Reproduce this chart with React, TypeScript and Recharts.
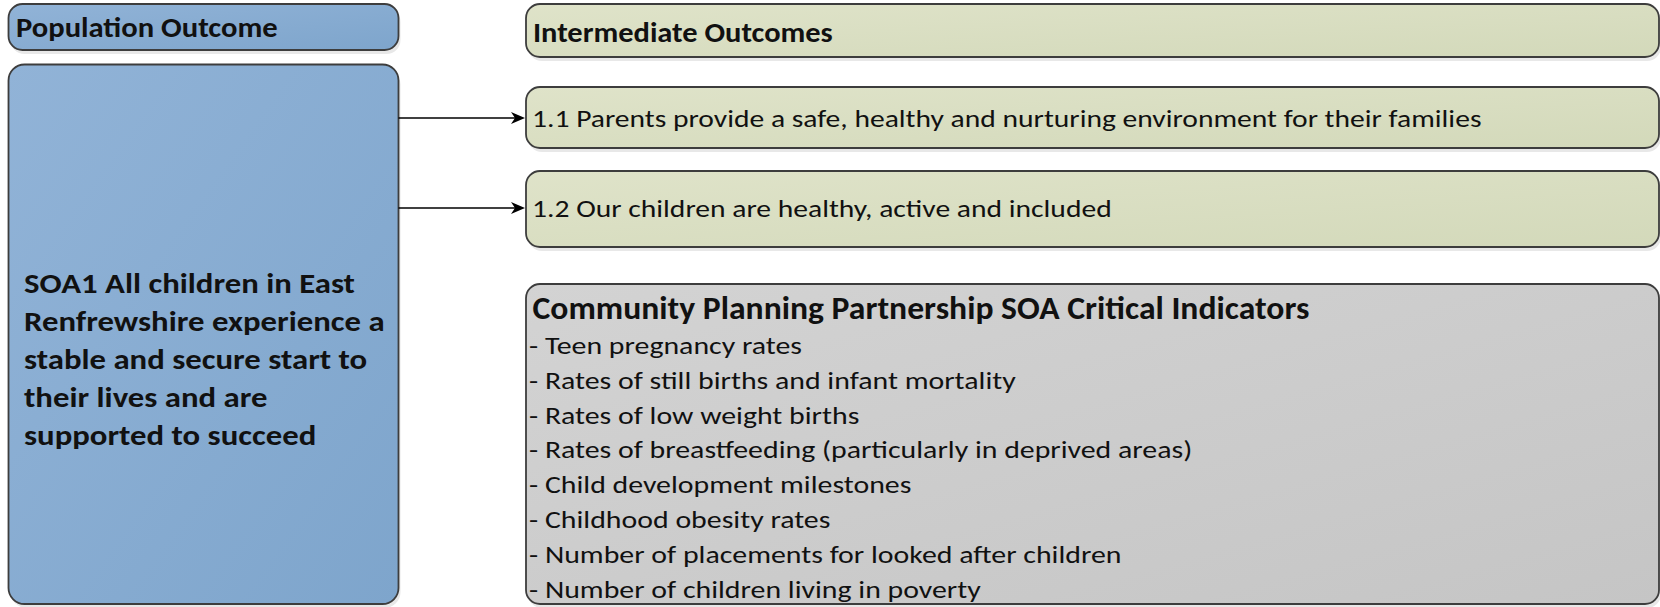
import React from "react";
import { ComposedChart, XAxis, YAxis, ReferenceArea } from "recharts";

const populationTitle = "Population Outcome";
const populationOutcome = [
  "SOA1 All children in East",
  "Renfrewshire experience a",
  "stable and secure start to",
  "their lives and are",
  "supported to succeed",
];
const intermediateTitle = "Intermediate Outcomes";
const intermediateOutcomes = [
  "1.1 Parents provide a safe, healthy and nurturing environment for their families",
  "1.2 Our children are healthy, active and included",
];
const indicatorTitle = "Community Planning Partnership SOA Critical Indicators";
const indicators = [
  "Teen pregnancy rates",
  "Rates of still births and infant mortality",
  "Rates of low weight births",
  "Rates of breastfeeding (particularly in deprived areas)",
  "Child development milestones",
  "Childhood obesity rates",
  "Number of placements for looked after children",
  "Number of children living in poverty",
];

const W = 1660;
const H = 607;
const FONT = "Carlito, Lato, sans-serif";

type Line = { text: string; dx: number; dy: number; size: number; sx: number; bold?: boolean };

const grads: Record<string, [string, string]> = {
  blue: ["#91b3d7", "#7ea5cc"],
  green: ["#dfe3c9", "#d3d9ba"],
  gray: ["#d3d3d3", "#c5c5c5"],
};

const boxShape = (kind: string, radius: number, lines: Line[]) => (p: any) => {
  const { x, y, width, height } = p;
  const id = `g-${kind}`;
  return (
    <g>
      <defs>
        <linearGradient id={id} x1="0" y1="0" x2="1" y2="1">
          <stop offset="0%" stopColor={grads[kind][0]} />
          <stop offset="100%" stopColor={grads[kind][1]} />
        </linearGradient>
      </defs>
      <rect x={x + 2} y={y + 4} width={width} height={height} rx={radius} fill="#e8e8e8" />
      <rect x={x} y={y} width={width} height={height} rx={radius} fill={`url(#${id})`} stroke="#3d3d3d" strokeWidth={1.8} />
      {lines.map((l, i) => (
        <text
          key={i}
          x={0}
          y={0}
          transform={`translate(${x + l.dx},${y + l.dy}) scale(${l.sx},1)`}
          fontSize={l.size}
          fontWeight={l.bold ? 700 : 400}
          fontFamily={FONT}
          fill="#111"
        >
          {l.text}
        </text>
      ))}
    </g>
  );
};

const arrowShape = (p: any) => {
  const { x, y, width, height } = p;
  const cy = y + height / 2;
  const tip = x + width;
  return (
    <g>
      <line x1={x} y1={cy} x2={tip - 8} y2={cy} stroke="#000" strokeWidth={1.6} />
      <path d={`M${tip},${cy} L${tip - 14},${cy - 6} L${tip - 10},${cy} L${tip - 14},${cy + 6} Z`} fill="#000" />
    </g>
  );
};

export default function App() {
  const popLines: Line[] = [{ text: populationTitle, dx: 7.5, dy: 33, size: 29, sx: 1.055, bold: true }];
  const bigLines: Line[] = populationOutcome.map((t, i) => ({ text: t, dx: 15.5, dy: 228 + i * 38, size: 29, sx: 1.13, bold: true }));
  const interLines: Line[] = [{ text: intermediateTitle, dx: 7, dy: 38, size: 29, sx: 1.05, bold: true }];
  const grayLines: Line[] = [
    { text: indicatorTitle, dx: 6.5, dy: 35, size: 33, sx: 1.02, bold: true },
    ...indicators.map((t, i) => ({ text: "- " + t, dx: 3, dy: 70 + i * 34.8, size: 25.5, sx: 1.17 })),
  ];
  return (
    <div style={{ position: "absolute", left: 0, top: 0 }}>
      <ComposedChart width={W} height={H} data={[]} margin={{ top: 0, right: 0, bottom: 0, left: 0 }}>
        <XAxis type="number" dataKey="x" domain={[0, W]} hide allowDataOverflow />
        <YAxis type="number" dataKey="y" domain={[0, H]} reversed hide allowDataOverflow />
        <ReferenceArea x1={8.5} x2={398.5} y1={4} y2={50} shape={boxShape("blue", 14, popLines)} ifOverflow="visible" />
        <ReferenceArea x1={8.5} x2={398.5} y1={64.5} y2={604} shape={boxShape("blue", 16, bigLines)} ifOverflow="visible" />
        <ReferenceArea x1={526} x2={1659} y1={4} y2={57} shape={boxShape("green", 14, interLines)} ifOverflow="visible" />
        <ReferenceArea x1={526} x2={1659} y1={87} y2={148} shape={boxShape("green", 14, [{ text: intermediateOutcomes[0], dx: 6, dy: 40, size: 25.5, sx: 1.16 }])} ifOverflow="visible" />
        <ReferenceArea x1={526} x2={1659} y1={171} y2={247} shape={boxShape("green", 14, [{ text: intermediateOutcomes[1], dx: 6, dy: 46, size: 25.5, sx: 1.16 }])} ifOverflow="visible" />
        <ReferenceArea x1={526} x2={1659} y1={284} y2={604} shape={boxShape("gray", 14, grayLines)} ifOverflow="visible" />
        <ReferenceArea x1={398.5} x2={525} y1={117} y2={119} shape={arrowShape} ifOverflow="visible" />
        <ReferenceArea x1={398.5} x2={525} y1={207} y2={209} shape={arrowShape} ifOverflow="visible" />
      </ComposedChart>
    </div>
  );
}
